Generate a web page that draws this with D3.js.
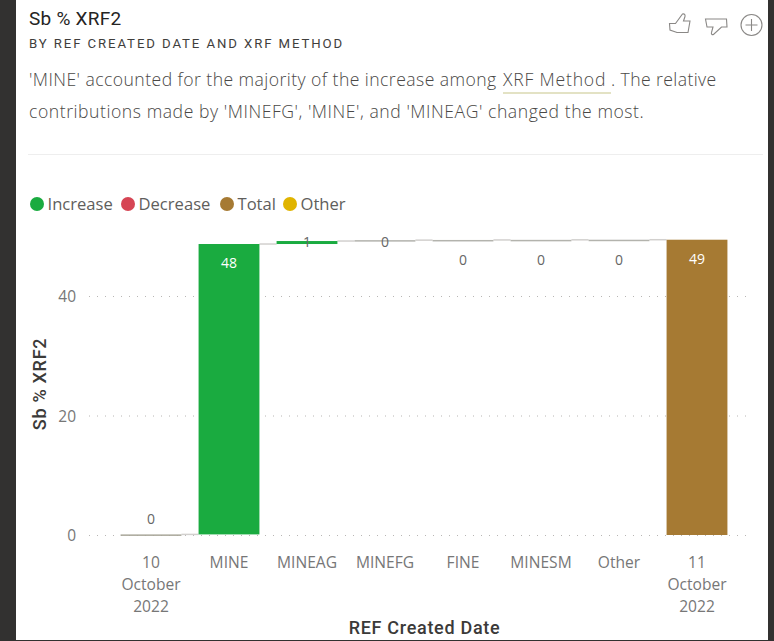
<!DOCTYPE html>
<html><head><meta charset="utf-8">
<script src="https://cdn.jsdelivr.net/npm/d3@7"></script>
<style>
html,body{margin:0;padding:0;background:#fff;width:774px;height:641px;overflow:hidden}
svg{display:block}
text{font-family:"Open Sans","Noto Sans",sans-serif;}
</style></head><body>
<svg id="c" width="774" height="641"></svg>
<script>
const categories=["10 October 2022","MINE","MINEAG","MINEFG","FINE","MINESM","Other","11 October 2022"];
const tickLines=[["10","October","2022"],["MINE"],["MINEAG"],["MINEFG"],["FINE"],["MINESM"],["Other"],["11","October","2022"]];
const deltas=[0.1,48.6,0.5,0.15,0.03,0.02,0.02,0];
const kinds=["total","increase","increase","increase","increase","increase","increase","total"];
const totalEnd=49.42;
const dataLabels=["0","48","1","0","0","0","0","49"];
const yTicks=[0,20,40];
const legendNames=["Increase","Decrease","Total","Other"];
const legendColors=["#1aab40","#d64554","#a67a33","#e0b400"];
const legendX=[37,128,227,290];
const colorOf={increase:"#1aab40",total:"#a67a33"};

const svg=d3.select("#c");
const ink="#605e5c";

// window frame
svg.append("rect").attr("width",16).attr("height",641).attr("fill","#323130");
svg.append("rect").attr("x",768).attr("width",6).attr("height",641).attr("fill","#323130");
svg.append("rect").attr("y",640).attr("width",774).attr("height",1).attr("fill","#323130");

// header
svg.append("text").attr("x",29).attr("y",24.5).attr("font-size",19).attr("font-weight",400).attr("fill","#252423")
  .attr("letter-spacing",0.25).style("font-family","Roboto").text("Sb % XRF2");
svg.append("text").attr("x",29).attr("y",48).attr("font-size",13.2).attr("font-weight",400).attr("fill","#3f3e3c")
  .attr("letter-spacing",1.9).style("font-family","Roboto").text("BY REF CREATED DATE AND XRF METHOD");
const para=svg.append("g").attr("font-size",17.6).attr("font-weight",300).attr("letter-spacing",0.55).attr("fill","#4a4846");
para.append("text").attr("x",29).attr("y",86).attr("letter-spacing",0.44).text("'MINE' accounted for the majority of the increase among");
para.append("text").attr("x",503).attr("y",86).attr("letter-spacing",0.8).text("XRF Method");
para.append("text").attr("x",611).attr("y",86).attr("letter-spacing",0.4).text(". The relative");
para.append("text").attr("x",29).attr("y",118).text("contributions made by 'MINEFG', 'MINE', and 'MINEAG' changed the most.");
svg.append("rect").attr("x",503).attr("y",92).attr("width",108).attr("height",2).attr("fill","#e3e2c4");
svg.append("rect").attr("x",28).attr("y",154).attr("width",735).attr("height",1).attr("fill","#eeeeee");

// icons
const icons=svg.append("g").attr("fill","none").attr("stroke","#8a8886").attr("stroke-width",1.1);
icons.append("path").attr("d","M669.5 23.5h6l7-9.5c1.5-0.5 3 0.3 2.5 2.5l-1.5 4.5h6.5l-2 11.5h-11l-7-2.5z");
icons.append("path").attr("d","M705.5 19h21l0.5 8h-5.5l-8 7.5c-1.5 0.5-2.5-0.5-2-2l1.5-5.5h-6z");
icons.append("circle").attr("cx",751.5).attr("cy",25).attr("r",10.5);
icons.append("path").attr("d","M751.5 19v12M745.5 25h12");

// legend
const leg=svg.append("g").selectAll("g").data(legendNames).join("g");
leg.append("circle").attr("cx",(d,i)=>legendX[i]).attr("cy",204).attr("r",7).attr("fill",(d,i)=>legendColors[i]);
leg.append("text").attr("x",(d,i)=>legendX[i]+10.5).attr("y",209.5).attr("font-size",16.6).attr("fill",ink).text(d=>d);

// scales
const y=d3.scaleLinear().domain([0,40]).range([535,296]);
const x=d3.scaleBand().domain(categories).range([112,736]).paddingInner(0.22).paddingOuter(0.11);

// axes
const gridX=d3.scaleLinear().domain([0,1]).range([89,753]);
svg.append("g").selectAll("line").data(yTicks).join("line")
  .attr("x1",gridX(0)).attr("x2",gridX(1)).attr("y1",d=>y(d)+0.5).attr("y2",d=>y(d)+0.5)
  .attr("stroke","#b8b6b4").attr("stroke-width",1).attr("stroke-dasharray","1 7");
const yAxis=svg.append("g").attr("transform","translate(76,0.8)").call(d3.axisLeft(y).tickValues(yTicks).tickSize(0).tickPadding(0));
yAxis.select(".domain").remove();
yAxis.selectAll("text").attr("font-size",15.5).attr("fill","#777").style("font-family","'Open Sans'");

const xAxis=svg.append("g").attr("transform","translate(0,535)").call(d3.axisBottom(x).tickSize(0).tickFormat(""));
xAxis.select(".domain").remove();
xAxis.selectAll(".tick").each(function(d,i){
  const t=d3.select(this).select("text").text(null).attr("y",null).attr("dy",null)
    .attr("font-size",15.6).attr("fill","#777").style("font-family","'Open Sans'");
  tickLines[i].forEach((s,k)=>t.append("tspan").attr("x",0).attr("y",33+k*22).text(s));
});

svg.append("text").attr("transform","translate(46,384) rotate(-90)").attr("text-anchor","middle")
  .attr("font-size",18).attr("font-weight",500).attr("letter-spacing",0.7).attr("fill","#3b3a39").style("font-family","Roboto").text("Sb % XRF2");
svg.append("text").attr("x",424.5).attr("y",633.5).attr("text-anchor","middle")
  .attr("font-size",18).attr("font-weight",500).attr("letter-spacing",0.7).attr("fill","#3b3a39").style("font-family","Roboto").text("REF Created Date");

// waterfall
let run=0;
const rows=categories.map((c,i)=>{
  if(i===categories.length-1) return {c,i,y0:0,y1:totalEnd,kind:kinds[i]};
  const r={c,i,y0:run,y1:run+deltas[i],kind:kinds[i]};
  run+=deltas[i];
  return r;
});
// connectors
svg.append("g").selectAll("line").data(rows.slice(0,-1)).join("line")
  .attr("x1",d=>x(d.c)+x.bandwidth()).attr("x2",d=>x(categories[d.i+1]))
  .attr("y1",d=>y(d.y1)).attr("y2",d=>y(d.y1)).attr("stroke","#d2d0ce").attr("stroke-width",1.5);
svg.append("g").selectAll("rect").data(rows).join("rect")
  .attr("x",d=>x(d.c)).attr("width",x.bandwidth())
  .attr("y",d=>y(d.y1)).attr("height",d=>Math.max(y(d.y0)-y(d.y1),1.5))
  .attr("fill",d=>d.i===0?"#a9a79a":(d.i>=3&&d.i<7?"#b3b3ad":colorOf[d.kind]));

// data labels
const labelYs=[524,268,247,247,265,265,265,264];
svg.append("g").selectAll("text").data(rows).join("text")
  .attr("x",d=>x(d.c)+x.bandwidth()/2)
  .attr("y",(d,i)=>labelYs[i]).attr("text-anchor","middle").attr("font-size",14)
  .style("font-family","'Open Sans'")
  .attr("fill",(d,i)=>(i===1||i===7)?"#fff":"#666")
  .text((d,i)=>dataLabels[i]);
</script>
</body></html>
